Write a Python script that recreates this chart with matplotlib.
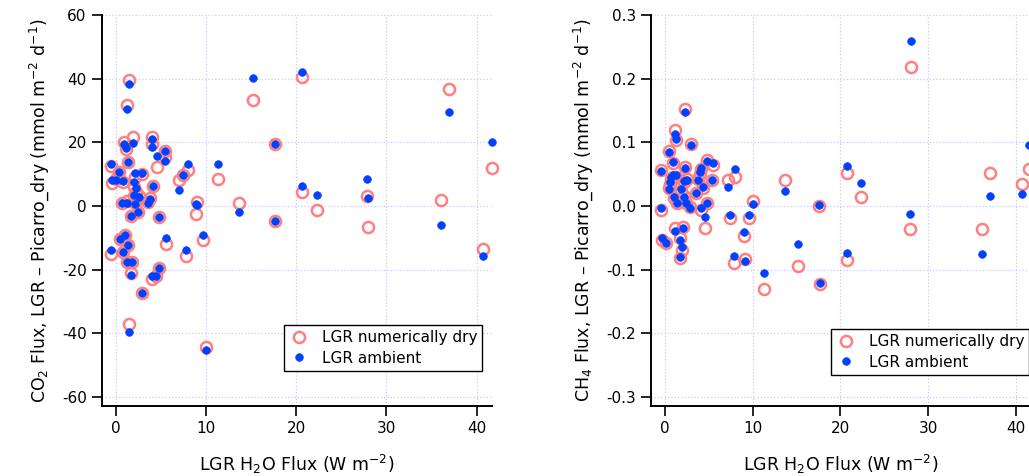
import numpy as np
import matplotlib
matplotlib.use('Agg')
import matplotlib.pyplot as plt
from matplotlib.ticker import FormatStrFormatter

plt.rcParams['font.family'] = ['DejaVu Sans']
plt.rcParams['axes.unicode_minus'] = False

# LGR H2O flux (W m-2) and CO2 flux differences (mmol m-2 d-1)
co2_h2o = [-0.5, -0.4, 0.3, 0.0, 0.8, 1.3, 0.9, 1.1, 1.9, 1.2, 1.4, 2.1, 2.9, 2.0,
           2.2, 2.0, 2.6, 0.7, 1.2, 2.1, 1.7, 2.5, 3.5, 3.8, 4.1, 4.8, 4.0, 4.0,
           4.5, 5.4, 5.4, 7.0, 7.4, 8.0, 9.0, 8.9, 11.3, 13.6, 15.2, 17.6, 17.6,
           20.6, 20.6, 22.3, 27.8, 27.9, 36.0, 36.9, 40.7, 41.7, -0.5, 0.4, 1.0,
           0.8, 1.3, 1.2, 1.8, 1.7, 2.9, 4.0, 4.4, 4.8, 1.4, 5.5, 7.8, 9.6, 10.0]
co2_dry = [12.6, 7.2, 10.5, 8.5, 7.5, 13.7, 20.0, 17.8, 21.5, 31.6, 39.5, 9.0, 10.0,
           6.0, 4.5, 3.0, 3.0, 1.0, 1.5, 0.8, -3.3, -2.0, 1.2, 2.4, 6.3, -3.5, 21.5,
           19.5, 12.3, 17.3, 15.5, 8.0, 9.8, 11.2, 1.3, -2.4, 8.3, 0.9, 33.3, 19.6,
           -4.9, 40.5, 4.3, -1.3, 3.0, -6.6, 1.8, 36.8, -13.4, 12.0, -15.0, -10.4,
           -9.2, -14.6, -12.2, -17.6, -17.6, -21.1, -27.3, -23.0, -22.0, -19.5,
           -37.0, -11.9, -15.8, -10.8, -44.2]
co2_amb = [13.2, 8.0, 10.7, 8.1, 7.8, 13.7, 19.3, 18.1, 19.7, 30.6, 38.3, 10.4, 10.3,
           7.5, 5.5, 3.4, 2.8, 0.9, 0.8, 0.6, -3.3, -2.0, 0.9, 2.2, 6.3, -3.5, 20.9,
           18.6, 15.6, 17.3, 14.0, 5.0, 9.8, 13.2, 0.2, 0.5, 13.2, -2.0, 40.2, 19.6,
           -4.9, 42.1, 6.4, 3.4, 8.3, 2.4, -5.9, 29.4, -15.9, 20.1, -13.9, -10.4,
           -9.2, -14.6, -12.2, -17.6, -17.6, -21.8, -27.3, -22.0, -22.0, -19.5,
           -39.6, -10.2, -13.9, -9.1, -45.2]

# LGR H2O flux (W m-2) and CH4 flux differences (mmol m-2 d-1)
ch4_h2o = [-0.4, 0.5, 1.2, 1.33, 2.3, 3.0, 1.0, 2.3, 4.8, 5.5, 4.1, 4.06, 0.45, 1.0,
           0.76, 0.65, 1.33, 2.2, 2.5, 1.9, 2.2, 3.6, 3.8, 4.4, 5.4, 8.0, 7.2, 13.7,
           -0.4, 1.1, 1.4, 2.4, 2.9, 4.1, 4.8, 4.55, 7.4, 9.6, 10.0, 9.0, 1.2, 2.05,
           -0.3, 0.1, 1.7, 2.0, 1.8, 7.9, 9.1, 11.3, 15.2, 17.6, 17.7, 20.7, 20.7,
           22.4, 28.0, 27.9, 37.0, 36.1, 40.7, 41.5]
ch4_dry = [0.057, 0.086, 0.119, 0.104, 0.152, 0.097, 0.067, 0.061, 0.072, 0.064,
           0.058, 0.050, 0.028, 0.046, 0.043, 0.035, 0.046, 0.038, 0.042, 0.024,
           0.015, 0.020, 0.043, 0.028, 0.040, 0.045, 0.041, 0.040, -0.007, 0.012,
           0.004, 0.004, -0.002, -0.007, 0.004, -0.035, -0.019, -0.019, 0.007,
           -0.048, -0.035, -0.033, -0.054, -0.059, -0.051, -0.070, -0.082, -0.089,
           -0.083, -0.130, -0.095, 0.000, -0.122, 0.051, -0.085, 0.014, 0.218,
           -0.037, 0.052, -0.037, 0.034, 0.058]
ch4_amb = [0.055, 0.085, 0.113, 0.105, 0.148, 0.096, 0.069, 0.060, 0.070, 0.067,
           0.060, 0.053, 0.026, 0.048, 0.045, 0.037, 0.048, 0.039, 0.040, 0.026,
           0.014, 0.021, 0.041, 0.030, 0.041, 0.058, 0.029, 0.024, -0.003, 0.014,
           0.005, 0.004, -0.003, -0.003, 0.004, -0.017, -0.015, -0.014, 0.003,
           -0.041, -0.040, -0.035, -0.050, -0.058, -0.054, -0.065, -0.080, -0.078,
           -0.087, -0.105, -0.060, 0.001, -0.121, 0.063, -0.074, 0.036, 0.259,
           -0.013, 0.016, -0.075, 0.018, 0.095]

series_labels = ['LGR numerically dry', 'LGR ambient']
dry_color = '#FF8080'
amb_color = '#0040FF'


def draw_panel(ax, x, dry, amb, ylim, yticks, ylabel, legend_xy):
    ax.plot(x, dry, 'o', ls='none', ms=8, mfc='none',
            mec=dry_color, mew=1.8, label=series_labels[0], clip_on=False)
    ax.plot(x, amb, 'o', ls='none', ms=5.5, mfc=amb_color, mec=amb_color,
            mew=0.5, label=series_labels[1], clip_on=False)

    ax.set_xlim(-1.55, 41.7)
    ax.set_ylim(*ylim)
    ax.set_xticks([0, 10, 20, 30, 40])
    ax.set_yticks(yticks)
    ax.grid(True, color='#c8c8ff', linestyle=':', linewidth=0.9)
    ax.set_axisbelow(True)

    for side in ['top', 'right']:
        ax.spines[side].set_visible(False)
    for side in ['left', 'bottom']:
        ax.spines[side].set_linewidth(1.4)
    ax.tick_params(direction='out', length=7, width=1.2, labelsize=11, pad=4)

    ax.set_xlabel(r'LGR H$_2$O Flux (W m$^{-2}$)', fontsize=12.5, labelpad=12)
    ax.set_ylabel(ylabel, fontsize=12.5, labelpad=8)

    leg = ax.legend(loc='upper left', bbox_to_anchor=legend_xy, fontsize=11,
                    frameon=True, fancybox=False, edgecolor='black',
                    framealpha=1, borderpad=0.35, handletextpad=0.9,
                    labelspacing=0.35, handlelength=1.2, borderaxespad=0)
    leg.get_frame().set_linewidth(1.0)


fig = plt.figure(figsize=(10.29, 4.76), dpi=100)
ax1 = fig.add_axes([0.0991, 0.1477, 0.379, 0.8208])
ax2 = fig.add_axes([0.6327, 0.1477, 0.3693, 0.8208])

draw_panel(ax1, co2_h2o, co2_dry, co2_amb, (-62.8, 60),
           [-60, -40, -20, 0, 20, 40, 60],
           r'CO$_2$ Flux, LGR – Picarro_dry (mmol m$^{-2}$ d$^{-1}$)',
           (0.467, 0.207))
draw_panel(ax2, ch4_h2o, ch4_dry, ch4_amb, (-0.314, 0.3),
           [-0.3, -0.2, -0.1, 0.0, 0.1, 0.2, 0.3],
           r'CH$_4$ Flux, LGR – Picarro_dry (mmol m$^{-2}$ d$^{-1}$)',
           (0.474, 0.196))
ax2.yaxis.set_major_formatter(FormatStrFormatter('%.1f'))

fig.savefig('out.png', dpi=100)
